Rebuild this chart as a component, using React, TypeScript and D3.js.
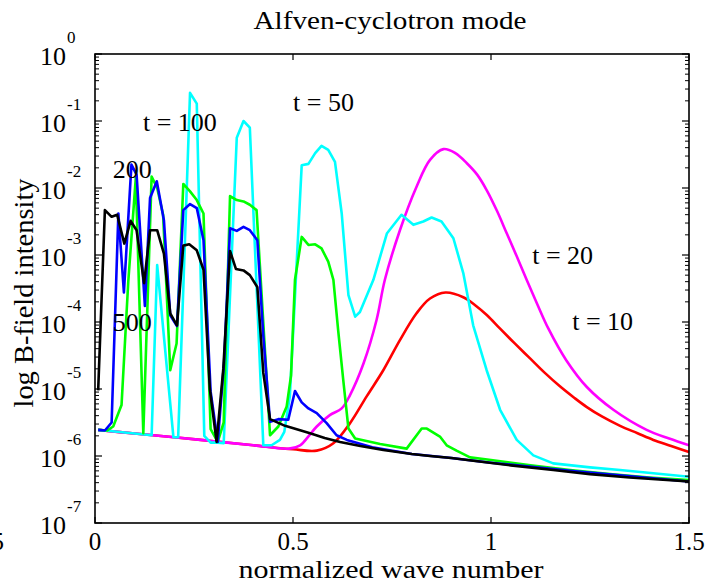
import React from "react";
import * as d3 from "d3";

// ---- data: [normalized wave number, log10(B-field intensity)] ----
const t10: [number, number][] = [
  [0.008, -5.61], [0.1, -5.665], [0.2, -5.72], [0.3, -5.78], [0.4, -5.84], [0.5, -5.9],
  [0.56, -5.92], [0.602, -5.81], [0.644, -5.51], [0.686, -5.11], [0.728, -4.72], [0.77, -4.27],
  [0.812, -3.87], [0.846, -3.65], [0.885, -3.56], [0.93, -3.63], [0.96, -3.75], [0.99, -3.9],
  [1.023, -4.1], [1.06, -4.32], [1.098, -4.54], [1.136, -4.76], [1.174, -4.96], [1.21, -5.13],
  [1.242, -5.27], [1.28, -5.41], [1.326, -5.55], [1.37, -5.66], [1.41, -5.76], [1.455, -5.85],
  [1.5, -5.94],
];
const t20: [number, number][] = [
  [0.008, -5.61], [0.1, -5.665], [0.2, -5.72], [0.3, -5.78], [0.4, -5.84], [0.49, -5.89],
  [0.518, -5.84], [0.54, -5.7], [0.56, -5.56], [0.593, -5.39], [0.623, -5.29], [0.644, -5.09],
  [0.678, -4.62], [0.711, -3.97], [0.732, -3.37], [0.77, -2.63], [0.812, -1.98], [0.846, -1.58],
  [0.88, -1.42], [0.91, -1.48], [0.939, -1.63], [0.965, -1.8], [0.989, -2.03], [1.015, -2.34],
  [1.04, -2.68], [1.065, -3.02], [1.09, -3.37], [1.118, -3.75], [1.145, -4.1], [1.19, -4.57],
  [1.242, -4.97], [1.309, -5.31], [1.393, -5.61], [1.45, -5.74], [1.5, -5.84],
];
const t50: [number, number][] = [
  [0.008, -5.61], [0.05, -5.635], [0.1, -5.665], [0.143, -5.69], [0.157, -3.15], [0.198, -5.72],
  [0.21, -5.72], [0.24, -0.58], [0.257, -0.74], [0.276, -5.7], [0.292, -5.8], [0.31, -5.8],
  [0.325, -5.81], [0.358, -1.25], [0.375, -1.0], [0.391, -1.1], [0.425, -5.84], [0.446, -5.84],
  [0.467, -5.76], [0.478, -5.64], [0.492, -5.11], [0.522, -1.66], [0.539, -1.64], [0.556, -1.48],
  [0.572, -1.37], [0.589, -1.43], [0.606, -1.61], [0.623, -2.38], [0.64, -3.6], [0.657, -3.92],
  [0.669, -3.85], [0.703, -3.37], [0.737, -2.68], [0.774, -2.4], [0.804, -2.55], [0.829, -2.5],
  [0.85, -2.44], [0.875, -2.5], [0.905, -2.75], [0.93, -3.27], [0.955, -4.05], [0.989, -4.72],
  [1.023, -5.31], [1.065, -5.76], [1.107, -5.99], [1.157, -6.11], [1.25, -6.17], [1.326, -6.21],
  [1.5, -6.31],
];
const t100: [number, number][] = [
  [0.008, -5.61], [0.03, -5.62], [0.046, -5.56], [0.067, -5.24], [0.084, -3.4], [0.103, -1.85],
  [0.122, -5.66], [0.143, -1.83], [0.157, -2.0], [0.172, -2.4], [0.19, -4.72], [0.206, -4.32],
  [0.223, -1.94], [0.24, -2.05], [0.257, -2.18], [0.274, -2.38], [0.292, -5.6], [0.31, -5.79],
  [0.325, -5.5], [0.341, -2.12], [0.358, -2.18], [0.375, -2.2], [0.391, -2.25], [0.408, -2.33],
  [0.442, -5.69], [0.463, -5.56], [0.484, -5.26], [0.495, -4.8], [0.505, -3.37], [0.522, -2.73],
  [0.539, -2.85], [0.556, -2.84], [0.572, -2.9], [0.589, -3.1], [0.602, -3.37], [0.614, -4.12],
  [0.627, -4.87], [0.64, -5.59], [0.657, -5.74], [0.72, -5.82], [0.787, -5.89], [0.825, -5.59],
  [0.838, -5.59], [0.871, -5.71], [0.888, -5.84], [0.913, -5.92], [0.947, -6.02], [1.0, -6.06],
  [1.1, -6.14], [1.2, -6.21], [1.3, -6.27], [1.4, -6.32], [1.5, -6.36],
];
const t200: [number, number][] = [
  [0.008, -5.61], [0.025, -5.62], [0.042, -5.5], [0.059, -2.38], [0.073, -3.56], [0.092, -1.65],
  [0.105, -1.8], [0.126, -3.76], [0.139, -2.15], [0.156, -1.9], [0.174, -2.48], [0.19, -3.9],
  [0.207, -4.06], [0.223, -2.33], [0.24, -2.24], [0.257, -2.3], [0.274, -2.78], [0.292, -5.04],
  [0.31, -5.79], [0.326, -4.6], [0.341, -2.6], [0.358, -2.64], [0.375, -2.58], [0.391, -2.63],
  [0.41, -2.78], [0.425, -4.2], [0.442, -5.49], [0.463, -5.45], [0.488, -5.46], [0.505, -5.03],
  [0.522, -5.2], [0.539, -5.29], [0.56, -5.36], [0.585, -5.51], [0.61, -5.69], [0.636, -5.76],
  [0.7, -5.87], [0.8, -5.97], [0.9, -6.03], [1.0, -6.1], [1.2, -6.22], [1.5, -6.38],
];
const t500: [number, number][] = [
  [0.008, -5.02], [0.025, -2.33], [0.042, -2.43], [0.056, -2.4], [0.074, -2.83], [0.09, -2.49],
  [0.105, -2.63], [0.124, -3.42], [0.139, -2.63], [0.157, -2.63], [0.174, -2.98], [0.19, -3.87],
  [0.207, -4.05], [0.223, -2.86], [0.238, -2.84], [0.257, -2.93], [0.274, -3.22], [0.29, -5.0],
  [0.307, -5.79], [0.324, -4.7], [0.341, -2.94], [0.356, -3.21], [0.375, -3.23], [0.391, -3.3],
  [0.41, -3.48], [0.425, -4.76], [0.442, -5.45], [0.48, -5.55], [0.52, -5.62], [0.543, -5.66],
  [0.58, -5.73], [0.619, -5.79], [0.67, -5.85], [0.728, -5.91], [0.8, -5.97], [0.846, -6.0],
  [0.9, -6.03], [0.955, -6.07], [1.05, -6.14], [1.157, -6.21], [1.25, -6.27], [1.35, -6.32],
  [1.5, -6.38],
];

const seriesColors = ["#ff0000", "#ff00ff", "#00ffff", "#00ff00", "#0000ff", "#000000"];
const xTicks = [0, 0.5, 1, 1.5];
const xTickLabels = ["0", "0.5", "1", "1.5"];
const yExponents = [0, -1, -2, -3, -4, -5, -6, -7];
const annotations = [
  { text: "t = 100", k: 0.121, e: -1.15 },
  { text: "t = 50", k: 0.5, e: -0.85 },
  { text: "t = 20", k: 1.104, e: -3.14 },
  { text: "t = 10", k: 1.205, e: -4.12 },
  { text: "200", k: 0.045, e: -1.85 },
  { text: "500", k: 0.045, e: -4.14 },
];

const W = 713, H = 584;
const L = 95, R = 689, T = 54, B = 523;
const FONT = "'Liberation Serif', 'Times New Roman', serif";

export default function App() {
  const x = d3.scaleLinear().domain([0, 1.5]).range([L, R]);
  const y = d3.scaleLog().domain([1e-7, 1]).range([B, T]);
  const line = d3
    .line<[number, number]>()
    .x((d) => x(d[0]))
    .y((d) => y(Math.pow(10, d[1])));
  const smooth = d3
    .line<[number, number]>()
    .x((d) => x(d[0]))
    .y((d) => y(Math.pow(10, d[1])))
    .curve(d3.curveCatmullRom.alpha(0.5));

  const series = [t10, t20, t50, t100, t200, t500];

  const minor: number[] = [];
  for (let e = -7; e < 0; e++) for (let m = 2; m <= 9; m++) minor.push(m * Math.pow(10, e));

  return (
    <svg width={W} height={H} style={{ position: "absolute", left: 0, top: 0, background: "#fff" }}
      fontFamily={FONT}>
      <rect x={0} y={0} width={W} height={H} fill="#fff" />
      {series.map((s, i) => (
        <path key={i} d={(i < 2 ? smooth : line)(s) || ""} fill="none" stroke={seriesColors[i]}
          strokeWidth={2.6} strokeLinejoin="round" />
      ))}
      <rect x={L} y={T} width={R - L} height={B - T} fill="none" stroke="#000" strokeWidth={1.6} />
      {minor.map((v, i) => (
        <g key={"mn" + i}>
          <line x1={L} x2={L + 4} y1={y(v)} y2={y(v)} stroke="#000" strokeWidth={1} />
          <line x1={R} x2={R - 4} y1={y(v)} y2={y(v)} stroke="#000" strokeWidth={1} />
        </g>
      ))}
      {yExponents.map((e) => (
        <g key={"mj" + e}>
          <line x1={L} x2={L + 7} y1={y(Math.pow(10, e))} y2={y(Math.pow(10, e))} stroke="#000" strokeWidth={1.2} />
          <line x1={R} x2={R - 7} y1={y(Math.pow(10, e))} y2={y(Math.pow(10, e))} stroke="#000" strokeWidth={1.2} />
          <text x={40} y={y(Math.pow(10, e)) + 10.5} fontSize={26} fill="#000">10</text>
          <text x={67} y={y(Math.pow(10, e)) - 11} fontSize={17} fill="#000">{String(e)}</text>
        </g>
      ))}
      {xTicks.map((t, i) => (
        <g key={"xt" + i}>
          <line x1={x(t)} x2={x(t)} y1={B} y2={B - 6} stroke="#000" strokeWidth={1.2} />
          <line x1={x(t)} x2={x(t)} y1={T} y2={T + 6} stroke="#000" strokeWidth={1.2} />
          <text x={x(t)} y={550} fontSize={25} textAnchor="middle" fill="#000">{xTickLabels[i]}</text>
        </g>
      ))}
      <text x={4} y={550} fontSize={25} textAnchor="end" fill="#000">5</text>
      <text x={390} y={29} fontSize={25} textAnchor="middle" textLength={273}
        lengthAdjust="spacingAndGlyphs" fill="#000">Alfven-cyclotron mode</text>
      <text x={391} y={578} fontSize={26} textAnchor="middle" textLength={305}
        lengthAdjust="spacingAndGlyphs" fill="#000">normalized wave number</text>
      <text transform="translate(33,293) rotate(-90)" fontSize={27} textAnchor="middle" textLength={229}
        lengthAdjust="spacingAndGlyphs" fill="#000">log B-field intensity</text>
      {annotations.map((a, i) => (
        <text key={"an" + i} x={x(a.k)} y={y(Math.pow(10, a.e))} fontSize={26} fill="#000">{a.text}</text>
      ))}
    </svg>
  );
}
